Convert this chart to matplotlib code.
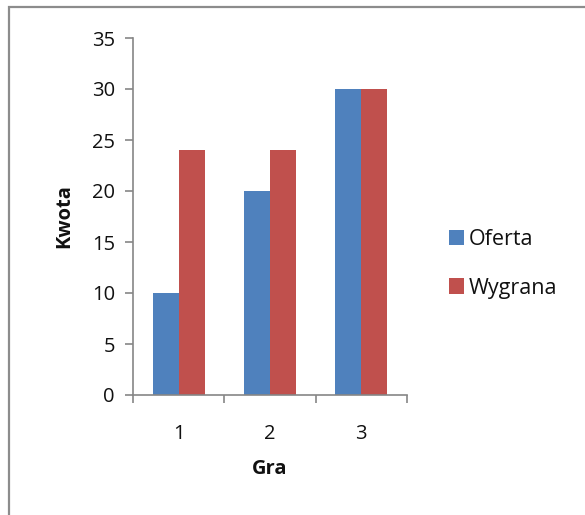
import matplotlib
matplotlib.use("Agg")
import matplotlib.pyplot as plt
import matplotlib.patches as mpatches
import numpy as np

# Chart data
games = ["1", "2", "3"]
oferta = [10, 20, 30]
wygrana = [24, 24, 30]
series_names = ["Oferta", "Wygrana"]
y_ticks = [0, 5, 10, 15, 20, 25, 30, 35]

plt.rcParams["font.family"] = ["Open Sans", "DejaVu Sans"]

W, H = 585, 515
fig = plt.figure(figsize=(W / 100, H / 100), dpi=100)
fig.patch.set_facecolor("white")

# Outer chart-area frame (only the left and top edges fall inside the image)
frame = mpatches.Rectangle((9 / W, -0.1), 1.2, 1.1 - 7 / H,
                           transform=fig.transFigure, fill=False,
                           edgecolor="#8c8c8c", linewidth=1.6, zorder=0)
fig.patches.append(frame)

ax = fig.add_axes([133 / W, 1 - 395 / H, (407 - 133) / W, (395 - 38) / H])

x = np.arange(len(games))
bw = 1 / 3.5
ax.bar(x - bw / 2, oferta, width=bw, color="#4F81BD", label=series_names[0], zorder=2)
ax.bar(x + bw / 2, wygrana, width=bw, color="#C0504D", label=series_names[1], zorder=2)

ax.set_xlim(-0.5, len(games) - 0.5)
ax.set_ylim(0, 35)
ax.set_yticks(y_ticks)
ax.set_xticks(x)
ax.set_xticklabels(games)
ax.set_xticks(np.arange(len(games) + 1) - 0.5, minor=True)

axis_color = "#868686"
for side in ["top", "right"]:
    ax.spines[side].set_visible(False)
for side in ["left", "bottom"]:
    ax.spines[side].set_color(axis_color)
    ax.spines[side].set_linewidth(1.2)

ax.tick_params(axis="y", direction="out", length=6, width=1.2, color=axis_color,
               labelsize=14.5, pad=7, labelcolor="#111111")
ax.tick_params(axis="x", which="major", length=0, labelsize=14.5, pad=21,
               labelcolor="#111111")
ax.tick_params(axis="x", which="minor", direction="out", length=6, width=1.2,
               color=axis_color)

ax.set_xlabel("Gra", fontsize=14.5, fontweight="bold", color="#111111")
ax.xaxis.set_label_coords(0.5, -0.18)
ax.set_ylabel("Kwota", fontsize=14.5, fontweight="bold", color="#111111")
ax.yaxis.set_label_coords(-0.215, 0.5)

leg = fig.legend(loc="center left", bbox_to_anchor=(449 / W, 1 - 264 / H),
                 frameon=False, fontsize=15.5, handlelength=0.7, handleheight=0.7,
                 handletextpad=0.2, labelspacing=1.26, borderpad=0, borderaxespad=0)
for t in leg.get_texts():
    t.set_color("#111111")

fig.savefig("out.png", dpi=100)
